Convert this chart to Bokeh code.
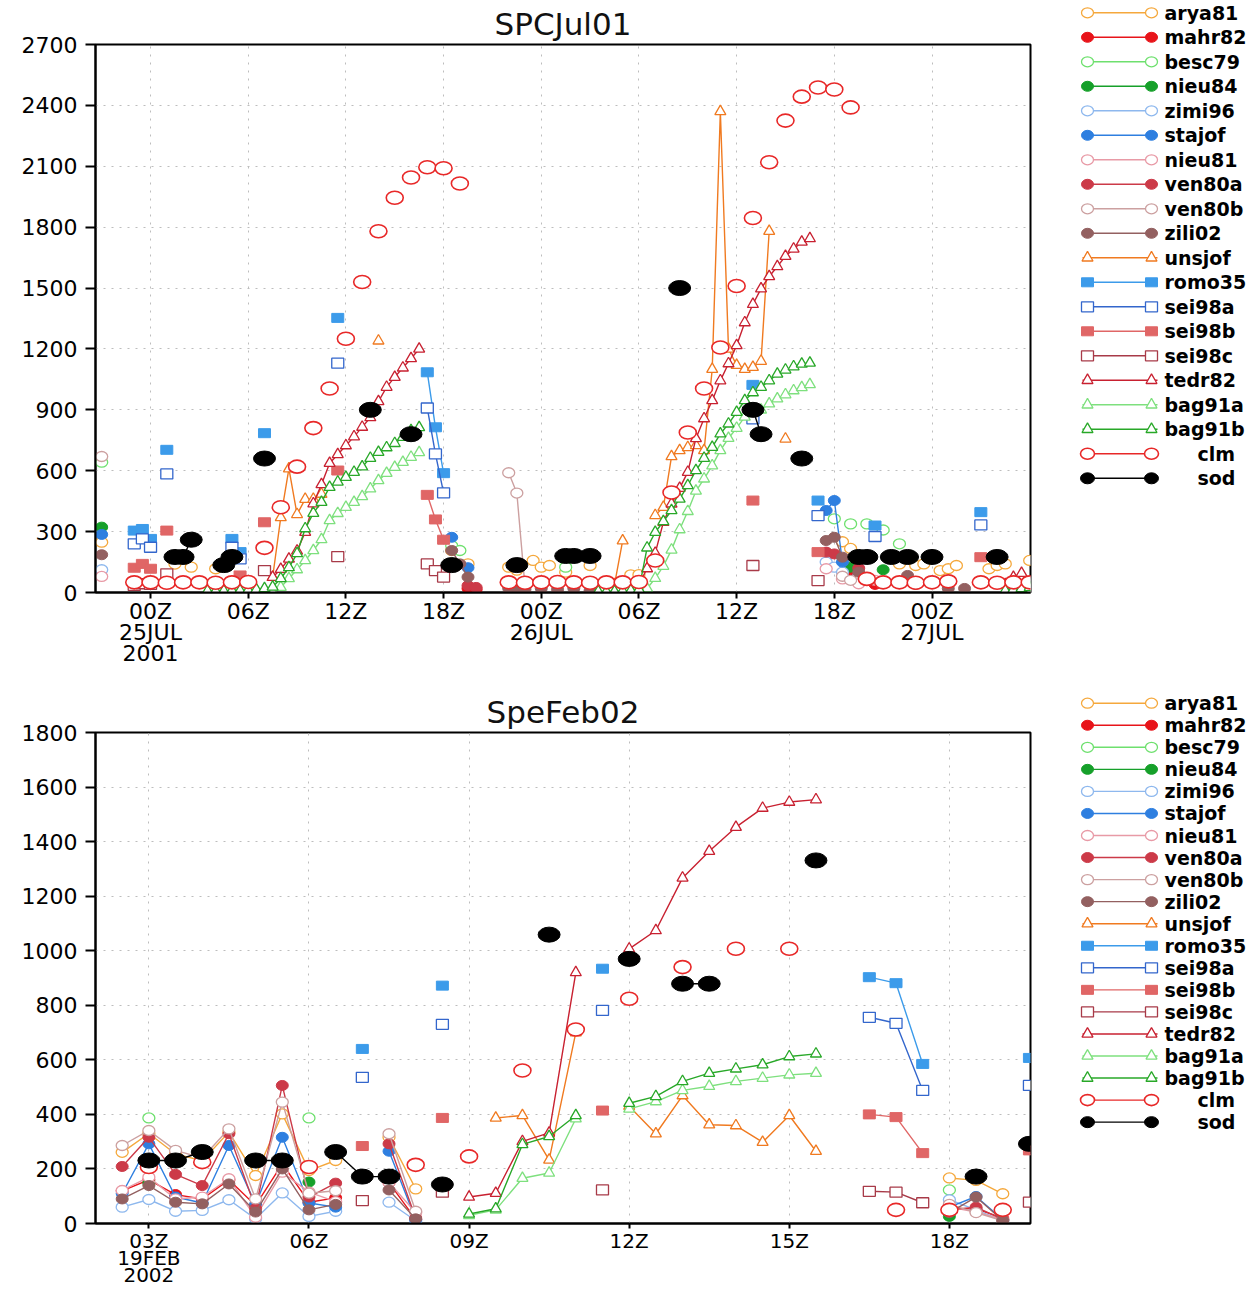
import numpy as np
from bokeh.plotting import figure
from bokeh.layouts import row, column
from bokeh.models import Range1d, FixedTicker
from bokeh.core.properties import value
from bokeh.embed import file_html
from bokeh.resources import INLINE

NAMES = ["arya81", "mahr82", "besc79", "nieu84", "zimi96", "stajof", "nieu81",
         "ven80a", "ven80b", "zili02", "unsjof", "romo35", "sei98a", "sei98b",
         "sei98c", "tedr82", "bag91a", "bag91b", "clm", "sod"]
COLORS = ["#F5A83C", "#E8141A", "#6EE06E", "#16A02A", "#8EB8EE", "#2E7FE0", "#E89AA6",
          "#CC3A48", "#CCA0A0", "#936060", "#F07A20", "#3C9BEA", "#3366CC", "#E06666",
          "#A83A48", "#C82030", "#7EE07E", "#28A828", "#E82828", "#000000"]
MARKS = ["ocircle", "fcircle", "ocircle", "fcircle", "ocircle", "fcircle", "ocircle",
         "fcircle", "ocircle", "fcircle", "otri", "fsq", "osq", "fsq",
         "osq", "otri", "otri", "otri", "clm", "sod"]

# ---------------- SPCJul01 (hours after 00Z 25 JUL 2001) ----------------
JUL_XTICKS = [0, 6, 12, 18, 24, 30, 36, 42, 48]
JUL_XLABELS = ["00Z\n25JUL\n2001", "06Z", "12Z", "18Z", "00Z\n26JUL", "06Z", "12Z", "18Z", "00Z\n27JUL"]
JUL_YTICKS = [0, 300, 600, 900, 1200, 1500, 1800, 2100, 2400, 2700]

jul_arya81_t = [-3.0, 1.5, 2.5, 4.0, 18.5, 19.5, 22.0, 22.5, 23.5, 24.0, 24.5, 25.5, 27.0, 29.5, 30.0,
                42.5, 43.0, 46.0, 47.0, 47.5, 48.5, 49.0, 49.5, 51.5, 52.0, 52.5, 54.0]
jul_arya81_v = [248, 140, 125, 117, 207, 141, 125, 110, 158, 125, 133, 100, 133, 87, 88,
                250, 217, 141, 133, 141, 108, 117, 133, 117, 133, 141, 158]
jul_mahr82_t = [19.5, 20.0, 43.0, 43.5, 44.5]
jul_mahr82_v = [20, 15, 100, 70, 40]
jul_besc79_t = [-3.0, 18.5, 19.0, 25.5, 42.0, 43.0, 44.0, 45.0, 46.0]
jul_besc79_v = [642, 230, 207, 125, 363, 338, 338, 308, 240]
jul_nieu84_t = [-3.0, 43.0, 45.0]
jul_nieu84_v = [322, 125, 112]
jul_zimi96_t = [-3.0, 41.5, 42.0, 42.5, 43.5]
jul_zimi96_v = [112, 150, 125, 100, 80]
jul_stajof_t = [-3.0, 18.5, 19.5, 41.5, 42.0, 42.5]
jul_stajof_v = [286, 272, 122, 404, 453, 150]
jul_nieu81_t = [-3.0, 41.5, 42.5, 43.5, 44.5]
jul_nieu81_v = [79, 117, 67, 43, 60]
jul_ven80a_t = [19.5, 20.0, 41.5, 42.0, 43.5]
jul_ven80a_v = [34, 25, 199, 190, 120]
jul_ven80b_t = [-3.0, 22.0, 22.5, 23.0, 42.5, 43.0]
jul_ven80b_v = [670, 590, 490, 30, 80, 60]
jul_zili02_t = [-3.0, 18.5, 19.0, 19.5, 22.0, 22.5, 23.0, 24.0, 25.0, 26.0, 27.0,
                41.5, 42.0, 42.5, 43.5, 46.5, 47.0, 49.0, 50.0, 53.0, 54.0]
jul_zili02_v = [186, 207, 141, 76, 20, 25, 15, 20, 15, 20, 10,
                256, 272, 174, 100, 84, 40, 20, 20, 20, 20]
jul_unsjof_t = [7.5, 8.0, 8.5, 9.0, 9.5, 10.0, 10.5, 14.0, 28.5, 29.0, 31.0, 31.5, 32.0, 32.5,
                33.0, 33.5, 34.0, 34.5, 35.0, 35.5, 36.0, 36.5, 37.0, 37.5, 38.0, 39.0]
jul_unsjof_v = [75, 370, 610, 385, 460, 460, 485, 1240, 40, 255, 380, 420, 670, 700,
                715, 725, 700, 1100, 2370, 1200, 1120, 1100, 1110, 1140, 1780, 757]
jul_romo35_t = [-1.0, -0.5, 0.0, 1.0, 5.0, 5.5, 7.0, 11.5, 17.0, 17.5, 18.0, 37.0, 41.0, 44.5, 51.0]
jul_romo35_v = [305, 313, 264, 703, 264, 199, 785, 1353, 1085, 814, 588, 1023, 453, 330, 396]
jul_sei98a_t = [-1.0, -0.5, 0.0, 1.0, 5.0, 5.5, 11.5, 17.0, 17.5, 18.0, 37.0, 41.0, 44.5, 51.0]
jul_sei98a_v = [240, 264, 223, 584, 223, 166, 1130, 909, 683, 491, 855, 379, 276, 333]
jul_sei98b_t = [-1.0, -0.5, 0.0, 1.0, 5.5, 7.0, 11.5, 17.0, 17.5, 18.0, 37.0, 41.0, 51.0]
jul_sei98b_v = [122, 141, 117, 305, 84, 346, 601, 481, 360, 260, 453, 199, 174]
jul_sei98c_t = [-1.0, -0.5, 0.0, 1.0, 5.5, 7.0, 11.5, 17.0, 17.5, 18.0, 37.0, 41.0]
jul_sei98c_v = [35, 43, 40, 92, 26, 108, 177, 141, 108, 76, 133, 59]
jul_tedr82_t = [7.5, 8.0, 8.5, 9.0, 9.5, 10.0, 10.5, 11.0, 11.5, 12.0, 12.5, 13.0, 13.5, 14.0,
                14.5, 15.0, 15.5, 16.0, 16.5,
                30.0, 30.5, 31.0, 31.5, 32.0, 32.5, 33.0, 33.5, 34.0, 34.5, 35.0, 35.5, 36.0,
                36.5, 37.0, 37.5, 38.0, 38.5, 39.0, 39.5, 40.0, 40.5,
                52.5, 53.0, 53.5, 54.0]
jul_tedr82_v = [75, 115, 165, 205, 297, 438, 532, 637, 680, 724, 768, 815, 862, 941,
                1012, 1061, 1107, 1153, 1200,
                40, 118, 194, 346, 437, 514, 593, 759, 857, 946, 1044, 1128, 1217,
                1330, 1420, 1497, 1557, 1606, 1657, 1693, 1727, 1744,
                40, 75, 95, 50]
jul_bag91a_t = [4.0, 4.5, 5.0, 5.5, 6.0, 6.5, 7.0, 7.5, 8.0, 8.5, 9.0, 9.5, 10.0, 10.5, 11.0,
                11.5, 12.0, 12.5, 13.0, 13.5, 14.0, 14.5, 15.0, 15.5, 16.0, 16.5,
                28.0, 28.5, 29.0, 29.5, 30.0, 30.5, 31.0, 31.5, 32.0, 32.5, 33.0, 33.5, 34.0,
                34.5, 35.0, 35.5, 36.0, 36.5, 37.0, 37.5, 38.0, 38.5, 39.0, 39.5, 40.0, 40.5,
                53.0, 53.5, 54.0]
jul_bag91a_v = [3, 3, 4, 4, 5, 4, 3, 2, 26, 69, 113, 158, 207, 261, 355,
                390, 420, 445, 473, 511, 552, 588, 617, 642, 667, 690,
                3, 3, 4, 4, 6, 20, 70, 130, 210, 310, 400, 500, 560,
                625, 700, 760, 810, 865, 885, 900, 930, 955, 975, 995, 1010, 1025,
                8, 12, 15]
jul_bag91b_t = [3.5, 4.0, 4.5, 5.0, 5.5, 6.0, 6.5, 7.0, 7.5, 8.0, 8.5, 9.0, 9.5, 10.0, 10.5, 11.0,
                11.5, 12.0, 12.5, 13.0, 13.5, 14.0, 14.5, 15.0, 15.5, 16.0, 16.5,
                27.5, 28.0, 28.5, 29.0, 29.5, 30.0, 30.5, 31.0, 31.5, 32.0, 32.5, 33.0, 33.5,
                34.0, 34.5, 35.0, 35.5, 36.0, 36.5, 37.0, 37.5, 38.0, 38.5, 39.0, 39.5, 40.0, 40.5,
                52.5, 53.0, 53.5, 54.0]
jul_bag91b_v = [8, 8, 8, 10, 10, 12, 15, 20, 27, 69, 123, 192, 315, 391, 445, 519,
                545, 568, 593, 620, 662, 691, 714, 735, 765, 798, 813,
                5, 5, 5, 8, 10, 15, 220, 297, 350, 404, 461, 527, 601,
                662, 716, 782, 831, 888, 946, 985, 1012, 1044, 1077, 1097, 1113, 1126, 1131,
                10, 15, 20, 25]
jul_clm_t = [-1, 0, 1, 2, 3, 4, 5, 6, 7, 8, 9, 10, 11, 12, 13, 14, 15, 16, 17, 18, 19,
             22, 23, 24, 25, 26, 27, 28, 29, 30, 31, 32, 33, 34, 35, 36, 37, 38, 39, 40, 41, 42, 43,
             44, 45, 46, 47, 48, 49, 51, 52, 53, 54]
jul_clm_v = [50, 50, 48, 50, 50, 48, 50, 52, 220, 420, 620, 810, 1005, 1250, 1530, 1780, 1945, 2045,
             2095, 2090, 2015,
             50, 48, 50, 52, 50, 48, 50, 50, 52, 158, 493, 788, 1005, 1207, 1510, 1845, 2120, 2325,
             2443, 2488, 2478, 2390,
             67, 50, 50, 48, 50, 55, 50, 48, 50, 50]
jul_sod_t = [1.5, 2.0, 2.5, 4.5, 5.0, 7.0, 13.5, 16.0, 18.5, 22.5, 25.5, 26.0, 27.0, 32.5,
             37.0, 37.5, 40.0, 43.5, 44.0, 45.5, 46.5, 48.0, 52.0]
jul_sod_v = [175, 175, 260, 135, 175, 660, 900, 780, 135, 135, 180, 180, 180, 1500,
             900, 780, 660, 175, 175, 175, 175, 175, 175]

# ---------------- SpeFeb02 (hour of 19 FEB 2002, UTC) ----------------
FEB_XTICKS = [3, 6, 9, 12, 15, 18]
FEB_XLABELS = ["03Z\n19FEB\n2002", "06Z", "09Z", "12Z", "15Z", "18Z"]
FEB_YTICKS = [0, 200, 400, 600, 800, 1000, 1200, 1400, 1600, 1800]

feb_mod_t = [2.5, 3.0, 3.5, 4.0, 4.5, 5.0, 5.5, 6.0, 6.5, 7.5, 8.0, 18.0, 18.5, 19.0]
feb_arya81_v = [261, 330, 255, 230, 335, 176, 402, 194, 231, 316, 127, 167, 158, 109]
feb_mahr82_v = [120, 160, 106, 90, 160, 66, 219, 78, 94, 150, 15, 55, 54, 20]
feb_zimi96_v = [60, 88, 45, 48, 87, 17, 112, 26, 45, 78, 10, 87, 50, 10]
feb_stajof_v = [110, 292, 97, 75, 286, 70, 316, 75, 60, 265, 15, 60, 99, 15]
feb_nieu81_v = [121, 170, 90, 97, 164, 23, 188, 115, 80, 150, 40, 60, 42, 15]
feb_ven80a_v = [209, 316, 180, 139, 329, 55, 506, 97, 148, 292, 20, 50, 60, 15]
feb_ven80b_v = [286, 341, 268, 240, 347, 90, 445, 111, 120, 329, 45, 70, 40, 10]
feb_zili02_v = [90, 139, 78, 72, 145, 42, 200, 50, 70, 123, 17, 40, 97, 11]
feb_besc79_t = [3.0, 6.0, 18.0]
feb_besc79_v = [387, 387, 123]
feb_nieu84_t = [3.0, 6.0, 18.0]
feb_nieu84_v = [148, 152, 26]
feb_unsjof_t = [9.5, 10.0, 10.5, 11.0, 12.0, 12.5, 13.0, 13.5, 14.0, 14.5, 15.0, 15.5]
feb_unsjof_v = [387, 396, 233, 700, 430, 329, 469, 362, 359, 298, 396, 265]
feb_bag_t = [9.0, 9.5, 10.0, 10.5, 11.0, 12.0, 12.5, 13.0, 13.5, 14.0, 14.5, 15.0, 15.5]
feb_tedr82_v = [97, 111, 301, 332, 920, 1007, 1074, 1267, 1365, 1453, 1523, 1545, 1554]
feb_bag91a_v = [30, 50, 166, 185, 384, 420, 447, 488, 503, 521, 533, 545, 551]
feb_bag91b_v = [35, 54, 290, 319, 396, 441, 466, 521, 551, 567, 582, 612, 622]
feb_clm_t = [3.0, 4.0, 6.0, 8.0, 9.0, 10.0, 11.0, 12.0, 13.0, 14.0, 15.0, 17.0, 18.0, 19.0]
feb_clm_v = [207, 225, 207, 215, 246, 561, 711, 824, 940, 1007, 1007, 50, 50, 50]
feb_sod_t = [3.0, 3.5, 4.0, 5.0, 5.5, 6.5, 7.0, 7.5, 8.5, 10.5, 12.0, 13.0, 13.5, 15.5, 18.5, 19.5]
feb_sod_v = [231, 231, 262, 231, 231, 262, 172, 172, 143, 1059, 970, 879, 879, 1331, 172, 292]
feb_sei_t = [7.0, 8.5, 11.5, 16.5, 17.0, 17.5, 19.5]
feb_romo35_v = [640, 872, 934, 903, 881, 585, 607]
feb_sei98a_v = [536, 730, 781, 756, 734, 488, 506]
feb_sei98b_v = [284, 387, 414, 400, 390, 258, 268]
feb_sei98c_v = [84, 115, 123, 118, 115, 76, 78]

JUL = {
    "arya81": (jul_arya81_t, jul_arya81_v), "mahr82": (jul_mahr82_t, jul_mahr82_v),
    "besc79": (jul_besc79_t, jul_besc79_v), "nieu84": (jul_nieu84_t, jul_nieu84_v),
    "zimi96": (jul_zimi96_t, jul_zimi96_v), "stajof": (jul_stajof_t, jul_stajof_v),
    "nieu81": (jul_nieu81_t, jul_nieu81_v), "ven80a": (jul_ven80a_t, jul_ven80a_v),
    "ven80b": (jul_ven80b_t, jul_ven80b_v), "zili02": (jul_zili02_t, jul_zili02_v),
    "unsjof": (jul_unsjof_t, jul_unsjof_v), "romo35": (jul_romo35_t, jul_romo35_v),
    "sei98a": (jul_sei98a_t, jul_sei98a_v), "sei98b": (jul_sei98b_t, jul_sei98b_v),
    "sei98c": (jul_sei98c_t, jul_sei98c_v), "tedr82": (jul_tedr82_t, jul_tedr82_v),
    "bag91a": (jul_bag91a_t, jul_bag91a_v), "bag91b": (jul_bag91b_t, jul_bag91b_v),
    "clm": (jul_clm_t, jul_clm_v), "sod": (jul_sod_t, jul_sod_v),
}
FEB = {
    "arya81": (feb_mod_t, feb_arya81_v), "mahr82": (feb_mod_t, feb_mahr82_v),
    "besc79": (feb_besc79_t, feb_besc79_v), "nieu84": (feb_nieu84_t, feb_nieu84_v),
    "zimi96": (feb_mod_t, feb_zimi96_v), "stajof": (feb_mod_t, feb_stajof_v),
    "nieu81": (feb_mod_t, feb_nieu81_v), "ven80a": (feb_mod_t, feb_ven80a_v),
    "ven80b": (feb_mod_t, feb_ven80b_v), "zili02": (feb_mod_t, feb_zili02_v),
    "unsjof": (feb_unsjof_t, feb_unsjof_v), "romo35": (feb_sei_t, feb_romo35_v),
    "sei98a": (feb_sei_t, feb_sei98a_v), "sei98b": (feb_sei_t, feb_sei98b_v),
    "sei98c": (feb_sei_t, feb_sei98c_v), "tedr82": (feb_bag_t, feb_tedr82_v),
    "bag91a": (feb_bag_t, feb_bag91a_v), "bag91b": (feb_bag_t, feb_bag91b_v),
    "clm": (feb_clm_t, feb_clm_v), "sod": (feb_sod_t, feb_sod_v),
}

FONT = "DejaVu Sans"


def gapped(t, v, maxgap=0.5):
    xs, ys = [], []
    for i in range(len(t)):
        if i > 0 and t[i] - t[i - 1] > maxgap + 1e-6:
            xs.append(np.nan)
            ys.append(np.nan)
        xs.append(t[i])
        ys.append(v[i])
    return np.array(xs, dtype=float), np.array(ys, dtype=float)


def draw_marks(p, kind, color, xs, ys, small=False):
    if kind == "ocircle":
        p.ellipse(x=xs, y=ys, width=12, height=10, width_units="screen", height_units="screen",
                  fill_color="white", line_color=color, line_width=1.3)
    elif kind == "fcircle":
        p.ellipse(x=xs, y=ys, width=12, height=10, width_units="screen", height_units="screen",
                  fill_color=color, line_color=color, line_width=1)
    elif kind == "otri":
        p.scatter(x=xs, y=ys, marker="triangle", size=11, fill_color="white",
                  line_color=color, line_width=1.3)
    elif kind == "fsq":
        p.rect(x=xs, y=ys, width=12, height=9, width_units="screen", height_units="screen",
               fill_color=color, line_color=color, line_width=1)
    elif kind == "osq":
        p.rect(x=xs, y=ys, width=12, height=10, width_units="screen", height_units="screen",
               fill_color="white", line_color=color, line_width=1.3)
    elif kind == "clm":
        w, h = (14, 11) if small else (17, 13)
        p.ellipse(x=xs, y=ys, width=w, height=h, width_units="screen", height_units="screen",
                  fill_color="white", line_color=color, line_width=1.6)
    elif kind == "sod":
        w, h = (14, 11) if small else (22, 15)
        p.ellipse(x=xs, y=ys, width=w, height=h, width_units="screen", height_units="screen",
                  fill_color=color, line_color=color, line_width=1)


def make_panel(title, data, xr, yr, xticks, xlabels, yticks, height, top, bottom, xfs, xlh, xtick_out):
    p = figure(width=1060, height=height, x_range=Range1d(*xr), y_range=Range1d(*yr),
               output_backend="svg", toolbar_location=None,
               min_border_left=95, min_border_right=30, min_border_top=top, min_border_bottom=bottom)
    p.title.text = title
    p.title.align = "center"
    p.title.text_font = FONT
    p.title.text_font_size = "31px"
    p.title.text_font_style = "normal"
    p.title.text_color = "#111111"
    p.title.text_line_height = 1.0
    p.title.standoff = 6
    p.title.offset = 0
    p.xaxis.ticker = FixedTicker(ticks=xticks)
    p.xaxis.major_label_overrides = {t: l for t, l in zip(xticks, xlabels)}
    p.yaxis.ticker = FixedTicker(ticks=yticks)
    p.xgrid.ticker = FixedTicker(ticks=xticks)
    p.ygrid.ticker = FixedTicker(ticks=yticks)
    for ax in (p.xaxis[0], p.yaxis[0]):
        ax.axis_line_width = 2
        ax.axis_line_color = "black"
        ax.major_tick_line_width = 2
        ax.major_tick_line_color = "black"
        ax.major_tick_in = 0
        ax.minor_tick_line_color = None
        ax.major_label_text_font = FONT
        ax.major_label_text_font_size = "22px"
        ax.major_label_text_color = "black"
    p.yaxis[0].major_tick_out = 10
    p.yaxis[0].major_label_standoff = 8
    p.xaxis[0].major_tick_out = xtick_out
    p.xaxis[0].major_label_standoff = 0
    p.xaxis[0].major_label_text_font_size = xfs
    p.xaxis[0].major_label_text_line_height = xlh
    p.grid.grid_line_color = "#bdbdbd"
    p.grid.grid_line_dash = "2 6"
    p.grid.grid_line_width = 1
    p.outline_line_color = "black"
    p.outline_line_width = 2
    p.outline_line_alpha = 1
    for name, color, kind in zip(NAMES, COLORS, MARKS):
        t, v = data[name]
        xs, ys = gapped(t, v)
        p.line(xs, ys, line_color=color, line_width=1.4)
        draw_marks(p, kind, color, t, v)
    return p


LEG_H = 1289


def make_legend():
    lg = figure(width=199, height=LEG_H, x_range=Range1d(1060, 1259), y_range=Range1d(LEG_H, 0),
                output_backend="svg", toolbar_location=None, x_axis_type=None, y_axis_type=None,
                min_border_left=0, min_border_right=0, min_border_top=0, min_border_bottom=0)
    if "frame_align" in lg.properties():
        lg.frame_align = False
    lg.outline_line_color = None
    lg.grid.visible = False
    for y0, dy in ((12.3, 24.5), (702.7, 22.05)):
        for i, (name, color, kind) in enumerate(zip(NAMES, COLORS, MARKS)):
            y = y0 + i * dy
            lg.line([1082, 1157], [y, y], line_color=color, line_width=1.4)
            draw_marks(lg, kind, color, [1087, 1151], [y, y], small=True)
            tx = 1197 if name in ("clm", "sod") else 1164
            lg.text(x=[tx], y=[y], text=[name], text_font=value(FONT), text_font_size="19px",
                    text_font_style="bold", text_baseline="middle", text_align="left",
                    text_color="black")
    return lg


p1 = make_panel("SPCJul01", JUL, (-3.38, 54.05), (0, 2700), JUL_XTICKS, JUL_XLABELS, JUL_YTICKS,
                672, 44, 80, "22px", 0.85, 6)
p2 = make_panel("SpeFeb02", FEB, (2.0, 19.52), (0, 1800), FEB_XTICKS, FEB_XLABELS, FEB_YTICKS,
                617, 60, 66, "20px", 0.71, 5)
leg = make_legend()

layout = row(column(p1, p2), leg)
open("out.html", "w").write(file_html(layout, INLINE))
